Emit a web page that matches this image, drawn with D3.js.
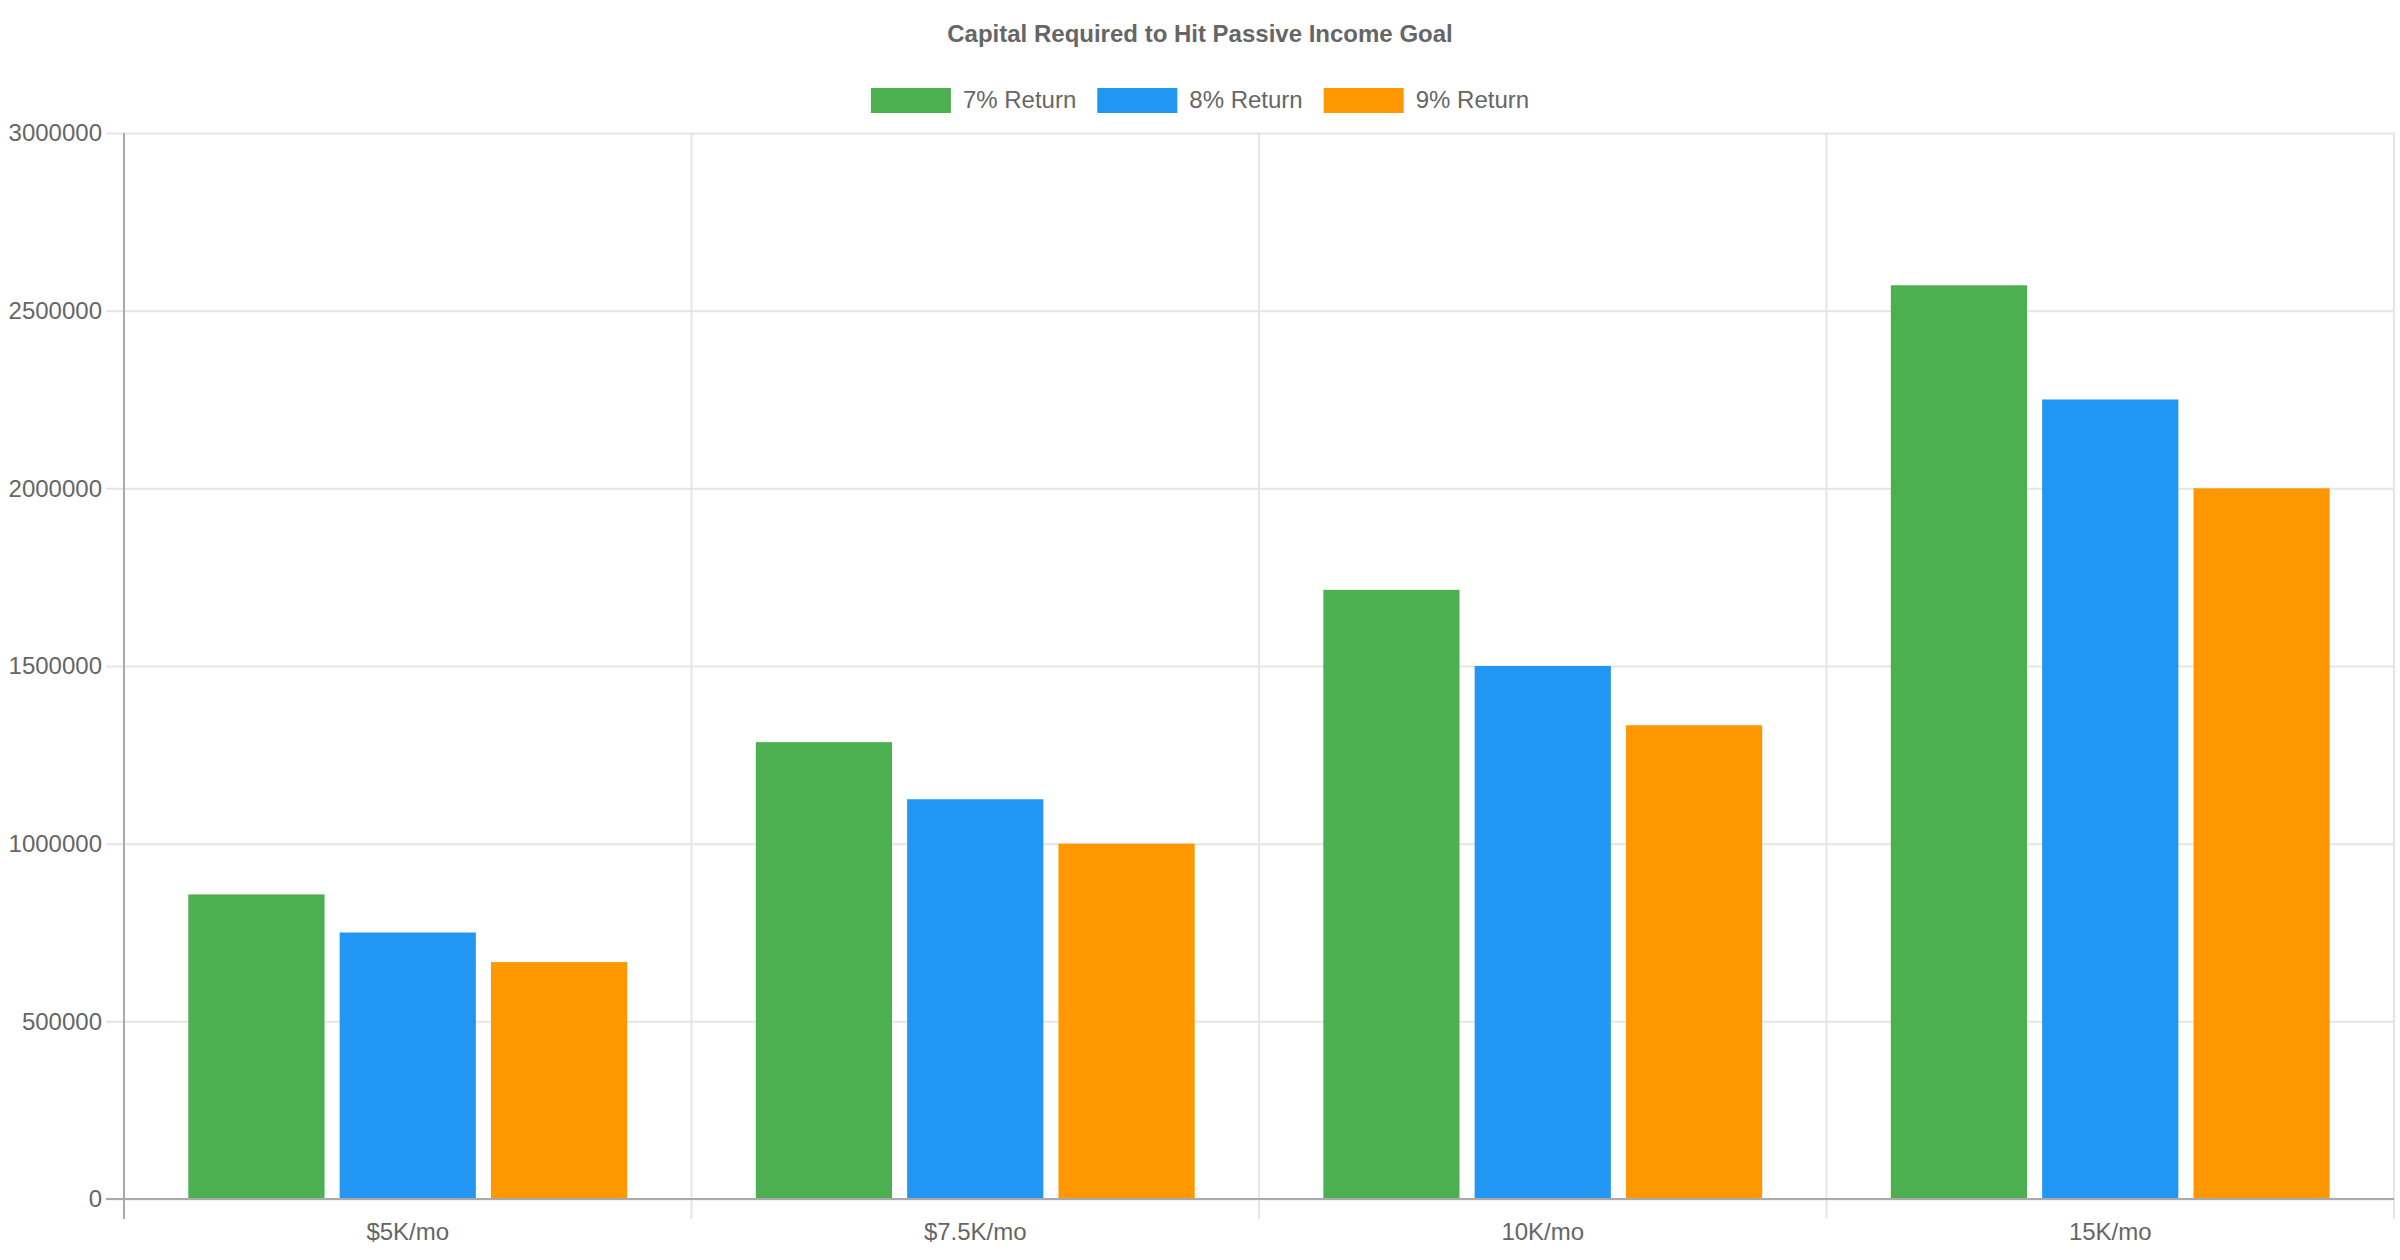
<!DOCTYPE html>
<html>
<head>
<meta charset="utf-8">
<script src="https://cdn.jsdelivr.net/npm/d3@7"></script>
<style>
  body { margin: 0; background: #fff; }
  svg text { font-family: "Liberation Sans", Arial, Helvetica, sans-serif; fill: #666; }
</style>
</head>
<body>
<div id="chart"></div>
<script>
var categories = ['$5K/mo', '$7.5K/mo', '10K/mo', '15K/mo'];
var seriesNames = ['7% Return', '8% Return', '9% Return'];
var return7 = [857143, 1285714, 1714286, 2571429];
var return8 = [750000, 1125000, 1500000, 2250000];
var return9 = [666667, 1000000, 1333333, 2000000];
var yTicks = [0, 500000, 1000000, 1500000, 2000000, 2500000, 3000000];
var colors = ['#4caf50', '#2196f3', '#ff9800'];

var seriesValues = [return7, return8, return9];

// Chart Setup
var width = 2400, height = 1260;
var margin = { top: 133, right: 6, bottom: 61, left: 124 };
var plotW = width - margin.left - margin.right;
var plotH = height - margin.top - margin.bottom;

var svg = d3.select('#chart')
  .append('svg')
  .attr('width', width)
  .attr('height', height);

var xScale = d3.scaleBand()
  .domain(categories)
  .range([0, plotW])
  .padding(0);
var bw = xScale.bandwidth();
var xInner = d3.scaleBand()
  .domain(seriesNames)
  .range([bw * 0.1, bw * 0.9])
  .paddingInner(0.1)
  .paddingOuter(0.05);
var yScale = d3.scaleLinear()
  .domain([0, 3000000])
  .range([plotH, 0]);

var chart = svg.append('g')
  .attr('transform', 'translate(' + margin.left + ',' + margin.top + ')');

// Title
svg.append('text')
  .attr('x', width / 2)
  .attr('y', 34)
  .attr('dy', '0.35em')
  .attr('text-anchor', 'middle')
  .style('font-size', '24px')
  .style('font-weight', 'bold')
  .text('Capital Required to Hit Passive Income Goal');

// Gridlines
var yAxis = d3.axisLeft(yScale)
  .tickValues(yTicks)
  .tickFormat(d3.format('d'))
  .tickSize(-plotW)
  .tickPadding(22);
var yG = chart.append('g').call(yAxis);
yG.select('.domain').remove();
yG.selectAll('.tick line')
  .attr('x1', -18)
  .attr('stroke', '#e5e5e5')
  .attr('stroke-width', 2);
yG.selectAll('.tick text')
  .style('font-size', '24px');

var xAxis = d3.axisBottom(xScale)
  .tickSize(0)
  .tickPadding(24);
var xG = chart.append('g')
  .attr('transform', 'translate(0,' + plotH + ')')
  .call(xAxis);
xG.select('.domain').remove();
xG.selectAll('.tick text')
  .style('font-size', '24px');

var vlines = categories.map(function (c) { return xScale(c); }).concat([plotW]);
chart.selectAll('.vgrid')
  .data(vlines)
  .enter()
  .append('line')
  .attr('class', 'vgrid')
  .attr('x1', function (d) { return d; })
  .attr('x2', function (d) { return d; })
  .attr('y1', 0)
  .attr('y2', plotH + 20)
  .attr('stroke', function (d, i) { return i === 0 ? '#aaa' : '#e5e5e5'; })
  .attr('stroke-width', 2);

// Bars
var groups = chart.selectAll('.cat')
  .data(categories)
  .enter()
  .append('g')
  .attr('transform', function (c) { return 'translate(' + xScale(c) + ',0)'; });

groups.selectAll('rect')
  .data(function (c, ci) {
    return seriesNames.map(function (s, si) {
      return { name: s, value: seriesValues[si][ci], color: colors[si] };
    });
  })
  .enter()
  .append('rect')
  .attr('x', function (d) { return xInner(d.name); })
  .attr('y', function (d) { return yScale(d.value); })
  .attr('width', xInner.bandwidth())
  .attr('height', function (d) { return plotH - yScale(d.value); })
  .attr('fill', function (d) { return d.color; });

// axis lines
chart.append('line')
  .attr('x1', -18).attr('x2', plotW)
  .attr('y1', plotH).attr('y2', plotH)
  .attr('stroke', '#aaa')
  .attr('stroke-width', 2);
chart.append('line')
  .attr('x1', 0).attr('x2', 0)
  .attr('y1', 0).attr('y2', plotH + 20)
  .attr('stroke', '#aaa')
  .attr('stroke-width', 2);

// Legend
var legend = svg.append('g');
var items = legend.selectAll('g')
  .data(seriesNames)
  .enter()
  .append('g');
items.append('rect')
  .attr('width', 80)
  .attr('height', 25)
  .attr('y', 88)
  .attr('fill', function (d, i) { return colors[i]; });
items.append('text')
  .attr('x', 92)
  .attr('y', 100)
  .attr('dy', '0.35em')
  .style('font-size', '24px')
  .text(function (d) { return d; });

var xPos = 0;
var offsets = [];
items.each(function () {
  var w = 92 + d3.select(this).select('text').node().getComputedTextLength();
  offsets.push(xPos);
  xPos += w + 21;
});
var total = xPos - 21;
items.attr('transform', function (d, i) {
  return 'translate(' + (width / 2 - total / 2 + offsets[i]) + ',0)';
});
</script>
</body>
</html>
